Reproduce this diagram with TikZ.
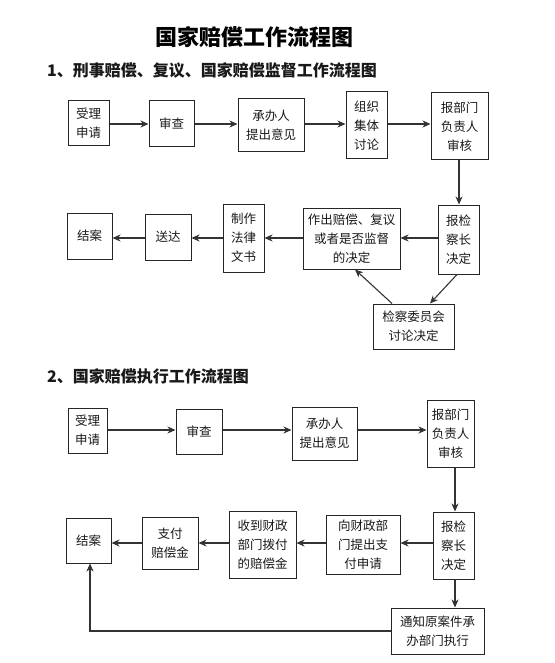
\documentclass[tikz,border=0pt]{standalone}
\usepackage{fontspec}
\setmainfont{Noto Sans CJK SC}
\usetikzlibrary{arrows.meta}
\tikzset{
  box/.style={draw=black!85, line width=1pt, inner sep=0pt, align=center, font=\fontsize{12.5}{19}\selectfont, text=black!90},
  arr/.style={draw=black!80, line width=1.1pt, -{Stealth[length=8pt,width=7pt,inset=2.5pt]}},
  ln/.style={draw=black!80, line width=1.1pt},
  ttl/.style={font=\fontsize{22}{24}\selectfont\bfseries, text=black},
  sub/.style={font=\fontsize{16}{18}\selectfont\bfseries, text=black!90, anchor=west, inner sep=0pt}
}
\begin{document}
\begin{tikzpicture}[x=1pt,y=1pt]
\useasboundingbox (0,0) rectangle (554,-663);
\node[ttl] (title) at (254,-37) {国家赔偿工作流程图};
\node[sub] (s1) at (47,-70) {1、刑事赔偿、复议、国家赔偿监督工作流程图};
% row a
\node[box, minimum width=41, minimum height=45] (a1) at (88.5,-123.5) {受理\\申请};
\node[box, minimum width=45, minimum height=46] (a2) at (171.5,-124) {审查};
\node[box, minimum width=66, minimum height=53] (a3) at (271,-125.5) {承办人\\提出意见};
\node[box, minimum width=41, minimum height=67] (a4) at (366.5,-125.5) {组织\\集体\\讨论};
\node[box, minimum width=57, minimum height=67] (a5) at (459.5,-126.5) {报部门\\负责人\\审核};
% row b
\node[box, minimum width=45, minimum height=46] (b1) at (89.5,-236) {结案};
\node[box, minimum width=46, minimum height=46] (b2) at (168,-237) {送达};
\node[box, minimum width=41, minimum height=68] (b3) at (243.5,-238) {制作\\法律\\文书};
\node[box, minimum width=97, minimum height=61] (b4) at (351.5,-238.5) {作出赔偿、复议\\或者是否监督\\的决定};
\node[box, minimum width=41, minimum height=69] (b5) at (458.5,-239.5) {报检\\察长\\决定};
\node[box, minimum width=81, minimum height=45] (b6) at (413.5,-326.5) {检察委员会\\讨论决定};
\draw[arr] (a1.east |- 0,-124) -- (a2.west |- 0,-124);
\draw[arr] (a2.east |- 0,-124) -- (a3.west |- 0,-124);
\draw[arr] (a3.east |- 0,-124) -- (a4.west |- 0,-124);
\draw[arr] (a4.east |- 0,-124) -- (a5.west |- 0,-124);
\draw[arr] (459,0 |- a5.south) -- (459,0 |- b5.north);
\draw[arr] (b5.west |- 0,-238) -- (b4.east |- 0,-238);
\draw[arr] (b4.west |- 0,-238) -- (b3.east |- 0,-238);
\draw[arr] (b3.west |- 0,-238) -- (b2.east |- 0,-238);
\draw[arr] (b2.west |- 0,-238) -- (b1.east |- 0,-238);
\draw[arr] (457,0 |- b5.south) -- (430,0 |- b6.north);
\draw[arr] (392,0 |- b6.north) -- (355,0 |- b4.south);
% section 2
\node[sub] (s2) at (47,-376) {2、国家赔偿执行工作流程图};
\node[box, minimum width=39, minimum height=45] (c1) at (87.5,-430.5) {受理\\申请};
\node[box, minimum width=46, minimum height=45] (c2) at (199,-431.5) {审查};
\node[box, minimum width=65, minimum height=53] (c3) at (324.5,-433.5) {承办人\\提出意见};
\node[box, minimum width=47, minimum height=67] (c4) at (450.5,-433.5) {报部门\\负责人\\审核};
\node[box, minimum width=45, minimum height=45] (d1) at (88.5,-540.5) {结案};
\node[box, minimum width=56, minimum height=52] (d2) at (170,-543) {支付\\赔偿金};
\node[box, minimum width=67, minimum height=67] (d3) at (262.5,-544.5) {收到财政\\部门拨付\\的赔偿金};
\node[box, minimum width=74, minimum height=59] (d4) at (363,-544.5) {向财政部\\门提出支\\付申请};
\node[box, minimum width=41, minimum height=67] (d5) at (453.5,-545.5) {报检\\察长\\决定};
\node[box, minimum width=93, minimum height=46] (d6) at (437.5,-631) {通知原案件承\\办部门执行};
\draw[arr] (c1.east |- 0,-430) -- (c2.west |- 0,-430);
\draw[arr] (c2.east |- 0,-430) -- (c3.west |- 0,-430);
\draw[arr] (c3.east |- 0,-430) -- (c4.west |- 0,-430);
\draw[arr] (455,0 |- c4.south) -- (455,0 |- d5.north);
\draw[arr] (d5.west |- 0,-543) -- (d4.east |- 0,-543);
\draw[arr] (d4.west |- 0,-543) -- (d3.east |- 0,-543);
\draw[arr] (d3.west |- 0,-543) -- (d2.east |- 0,-543);
\draw[arr] (d2.west |- 0,-543) -- (d1.east |- 0,-543);
\draw[arr] (455,0 |- d5.south) -- (455,0 |- d6.north);
\draw[arr] (d6.west) -- (90,0 |- d6.west) -- (90,0 |- d1.south);
\end{tikzpicture}
\end{document}
